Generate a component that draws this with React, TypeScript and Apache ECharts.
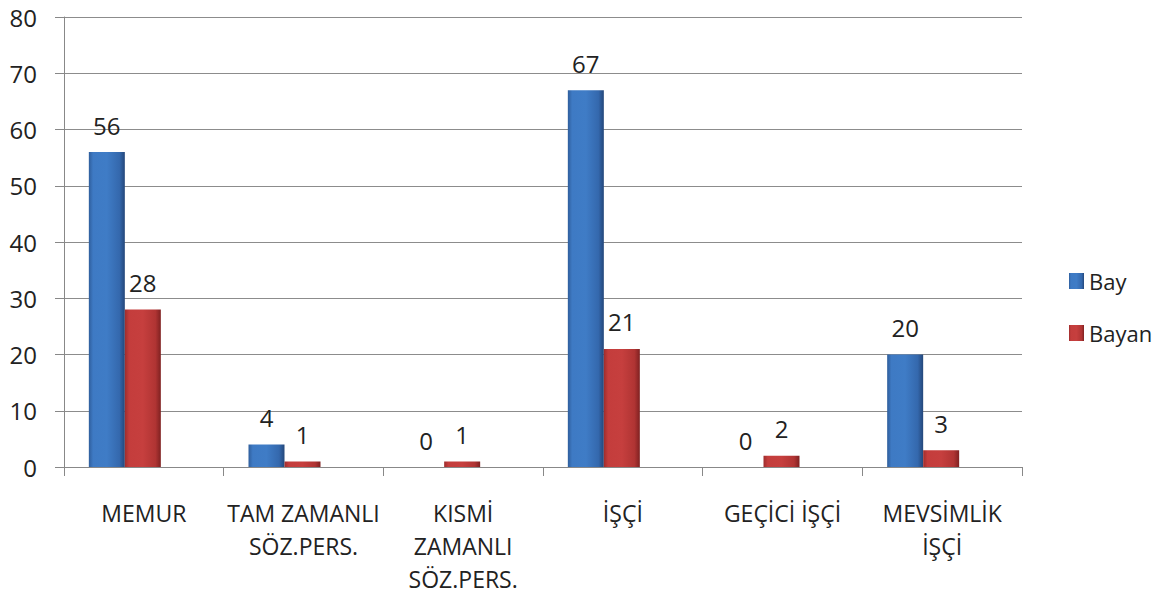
import React, { useEffect, useRef } from "react";
import * as echarts from "echarts";

const categories = [
  "MEMUR",
  "TAM ZAMANLI\nSÖZ.PERS.",
  "KISMİ\nZAMANLI\nSÖZ.PERS.",
  "İŞÇİ",
  "GEÇİCİ İŞÇİ",
  "MEVSİMLİK\nİŞÇİ",
];
const bayValues = [56, 4, 0, 67, 0, 20];
const bayanValues = [28, 1, 1, 21, 2, 3];
const seriesNames = ["Bay", "Bayan"];

const FONT = "'Open Sans', 'Noto Sans', sans-serif";

const blueGrad = new echarts.graphic.LinearGradient(0, 0, 1, 0, [
  { offset: 0, color: "#2f5e9c" },
  { offset: 0.12, color: "#3e7ac4" },
  { offset: 0.5, color: "#3f7cc6" },
  { offset: 0.85, color: "#3468ad" },
  { offset: 1, color: "#24477a" },
]);
const redGrad = new echarts.graphic.LinearGradient(0, 0, 1, 0, [
  { offset: 0, color: "#9e2d2d" },
  { offset: 0.12, color: "#c43d3c" },
  { offset: 0.5, color: "#c63f3e" },
  { offset: 0.85, color: "#b03433" },
  { offset: 1, color: "#7f2121" },
]);

export default function App() {
  const ref = useRef<HTMLDivElement>(null);
  useEffect(() => {
    if (!ref.current) return;
    const chart = echarts.init(ref.current, undefined, { renderer: "svg" });
    const labelStyle = {
      show: true,
      position: "top" as const,
      distance: 15,
      fontFamily: FONT,
      fontSize: 24,
      color: "#222",
    };
    chart.setOption({
      animation: false,
      backgroundColor: "#ffffff",
      textStyle: { fontFamily: FONT },
      grid: [
        { left: 64, right: 141, top: 17, bottom: 131, containLabel: false },
        { left: 45, right: 160, top: 17, bottom: 131, containLabel: false },
      ],
      legend: {
        orient: "vertical",
        left: 1064,
        top: 265,
        itemWidth: 15,
        itemHeight: 16,
        itemGap: 30,
        icon: "rect",
        data: seriesNames,
        textStyle: { fontFamily: FONT, fontSize: 22, color: "#222" },
      },
      xAxis: [
        {
          type: "category",
          gridIndex: 0,
          data: categories,
          axisLine: { lineStyle: { color: "#888", width: 1 } },
          axisTick: { show: true, length: 9, lineStyle: { color: "#888" } },
          axisLabel: {
            interval: 0,
            margin: 29,
            fontFamily: FONT,
            fontSize: 23,
            lineHeight: 33,
            color: "#222",
          },
        },
        {
          type: "category",
          gridIndex: 1,
          data: categories,
          show: false,
        },
      ],
      yAxis: [
        {
          type: "value",
          gridIndex: 0,
          min: 0,
          max: 80,
          interval: 10,
          axisLine: { show: true, lineStyle: { color: "#888", width: 1 } },
          axisTick: { show: true, length: 9, lineStyle: { color: "#888" } },
          splitLine: { lineStyle: { color: "#8c8c8c", width: 1 } },
          axisLabel: { margin: 27, fontFamily: FONT, fontSize: 24, color: "#222" },
        },
        {
          type: "value",
          gridIndex: 1,
          min: 0,
          max: 80,
          interval: 10,
          show: false,
          splitLine: { show: false },
        },
      ],
      series: [
        {
          name: seriesNames[0],
          type: "bar",
          xAxisIndex: 1,
          yAxisIndex: 1,
          data: bayValues,
          barWidth: 36,
          barGap: "0%",
          itemStyle: { color: blueGrad },
          label: labelStyle,
        },
        {
          name: seriesNames[1],
          type: "bar",
          xAxisIndex: 1,
          yAxisIndex: 1,
          data: bayanValues,
          barWidth: 36,
          barGap: "0%",
          itemStyle: { color: redGrad },
          label: labelStyle,
        },
      ],
    });
    return () => chart.dispose();
  }, []);
  return <div ref={ref} style={{ width: 1163, height: 598, margin: -8 }} />;
}
